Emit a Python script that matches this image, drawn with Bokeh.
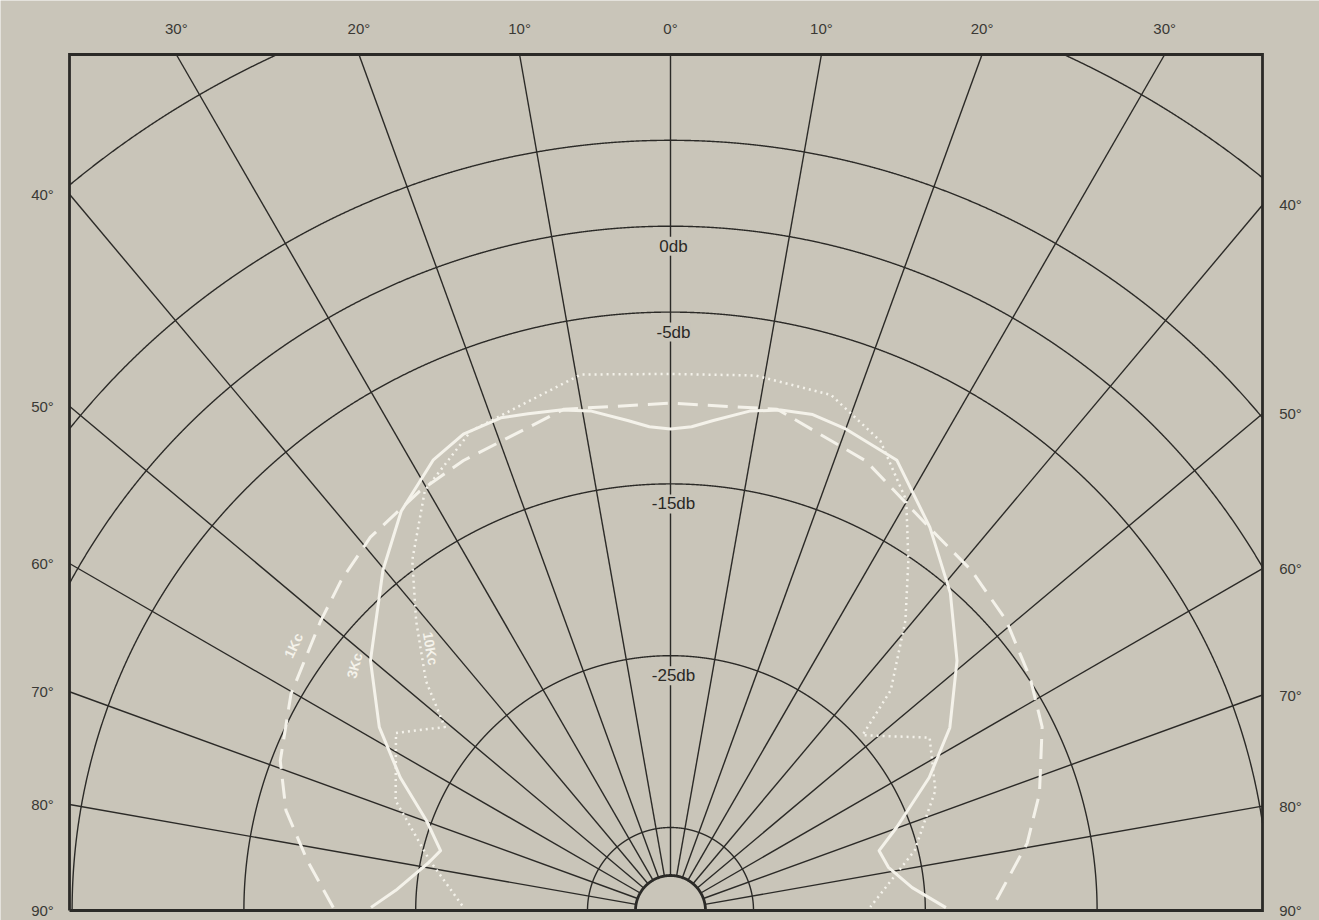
import numpy as np
from bokeh.plotting import figure
from bokeh.models import Range1d, Label
from bokeh.embed import file_html
from bokeh.resources import INLINE
from bokeh.core.properties import value

# ---------------- data ----------------
grid_db = [-35, -25, -15, -5, 0, 5, 15]
spoke_angles = [-80, -70, -60, -50, -40, -30, -20, -10, 0, 10, 20, 30, 40, 50, 60, 70, 80]
top_label_angles = [-30, -20, -10, 0, 10, 20, 30]
top_labels = ["30°", "20°", "10°", "0°", "10°", "20°", "30°"]
side_label_angles = [40, 50, 60, 70, 80, 90]
side_labels = ["40°", "50°", "60°", "70°", "80°", "90°"]
db_label_levels = [0, -5, -15, -25]
db_labels = ["0db", "-5db", "-15db", "-25db"]

# 1 Kc (dashed)
kc1_angle = [-89.5, -82.2, -75.4, -69.0, -60.3, -50.4, -45.0, -38.8, -31.0, -24.7, -12.0,
             0.0, 12.0, 23.5, 31.2, 36.0, 41.5, 49.1, 57.1, 63.7, 72.4, 79.3, 89.5]
kc1_db = [-20.2, -18.5, -16.7, -15.5, -14.4, -13.4, -12.7, -11.95, -11.4, -11.0, -10.0,
          -10.3, -10.0, -11.3, -12.6, -13.1, -13.4, -14.0, -14.9, -15.7, -17.3, -18.7, -21.1]

# 3 Kc (solid)
kc3_angle = [-89.4, -85.8, -78.7, -75.4, -69.8, -63.8, -57.8, -50.2, -40.2, -34.0, -27.8,
             -23.5, -19.0, -16.0, -12.4, -9.0, -5.0, -2.5, 0.0, 2.5, 5.0, 9.0, 12.4, 16.0,
             20.0, 26.7, 34.1, 41.4, 48.9, 56.8, 62.8, 69.8, 74.0, 78.8, 84.6, 89.4]
kc3_db = [-22.4, -23.8, -25.5, -26.0, -24.7, -22.3, -19.8, -17.1, -13.9, -11.8, -10.2,
          -9.6, -9.5, -9.75, -10.0, -10.4, -11.2, -11.65, -11.8, -11.65, -11.2, -10.4, -10.0,
          -9.8, -10.0, -10.5, -12.9, -15.2, -17.7, -20.4, -22.9, -25.8, -27.2, -26.9, -25.7,
          -23.8]

# 10 Kc (dotted)
kc10_angle = [-88.6, -78.2, -68.2, -57.1, -50.9, -46.8, -41.3, -36.4, -30.3, -22.6,
              -9.5, 0.0, 9.0, 17.3, 24.1, 29.9, 34.2, 39.0, 45.0, 47.6, 56.3, 65.6,
              76.2, 89.0]
kc10_db = [-27.7, -25.5, -22.6, -20.8, -22.9, -20.3, -17.4, -14.5, -11.5, -9.6,
           -8.2, -8.6, -8.3, -8.4, -9.9, -12.3, -15.2, -18.1, -21.7, -24.7, -21.7, -22.9,
           -25.2, -28.2]

curve_labels = ["1Kc", "3Kc", "10Kc"]

# ---------------- geometry / style ----------------
BG = "#c9c5b9"
INK = "#2b2a27"
WHITE = "#f4f2ea"
FONT = "Liberation Sans"
R0, K, HUB = 684.3, 17.18, 35.0
XL, XR, YT = -601.0, 592.0, 856.0


def rad(db):
    return R0 + K * np.asarray(db, dtype=float)


def to_xy(theta, r):
    t = np.radians(np.asarray(theta, dtype=float))
    r = np.asarray(r, dtype=float)
    return r * np.sin(t), r * np.cos(t)


p = figure(width=1319, height=920, x_range=Range1d(-670, 649), y_range=Range1d(-10, 910),
           output_backend="svg", toolbar_location=None, min_border=0,
           x_axis_location=None, y_axis_location=None)
p.grid.visible = False
p.outline_line_color = None
p.background_fill_color = BG
p.border_fill_color = BG

# arcs
for db in grid_db:
    th = np.arange(-90, 90.001, 0.05)
    x, y = to_xy(th, np.full_like(th, rad(db)))
    bad = (x < XL) | (x > XR) | (y > YT)
    x[bad] = np.nan
    y[bad] = np.nan
    p.line(x, y, line_color=INK, line_width=1.4)

# spokes
for a in spoke_angles:
    t = np.radians(a)
    s, c = np.sin(t), np.cos(t)
    lim = YT / c
    if s > 0:
        lim = min(lim, XR / s)
    elif s < 0:
        lim = min(lim, XL / s)
    p.line([HUB * s, lim * s], [HUB * c, lim * c], line_color=INK, line_width=1.4)

# hub
th = np.linspace(-90, 90, 181)
hx, hy = to_xy(th, np.full_like(th, HUB))
p.line(hx, hy, line_color=INK, line_width=2.8)

# frame
p.line([XL, XL, XR, XR, XL], [0, YT, YT, 0, 0], line_color=INK, line_width=2.8, line_join="miter")

# curves
x1, y1 = to_xy(kc1_angle, rad(kc1_db))
p.line(x1, y1, line_color=WHITE, line_width=3, line_dash="20 10", line_join="round")
x3, y3 = to_xy(kc3_angle, rad(kc3_db))
p.line(x3, y3, line_color=WHITE, line_width=3, line_join="round")
x10, y10 = to_xy(kc10_angle, rad(kc10_db))
p.line(x10, y10, line_color=WHITE, line_width=2.5, line_dash="2 4", line_join="round")

# top degree labels
tx = [YT * np.tan(np.radians(a)) for a in top_label_angles]
p.text(x=tx, y=[YT + 26] * len(tx), text=top_labels, text_font=value(FONT),
       text_font_size="15px", text_color="#3a3935", text_align="center",
       text_baseline="middle")
# side degree labels
ly = [(-XL) / np.tan(np.radians(a)) if a < 90 else 0 for a in side_label_angles]
ry = [XR / np.tan(np.radians(a)) if a < 90 else 0 for a in side_label_angles]
p.text(x=[XL - 27] * len(ly), y=ly, text=side_labels, text_font=value(FONT),
       text_font_size="15px", text_color="#3a3935", text_align="center",
       text_baseline="middle")
p.text(x=[XR + 28] * len(ry), y=ry, text=side_labels, text_font=value(FONT),
       text_font_size="15px", text_color="#3a3935", text_align="center",
       text_baseline="middle")

# dB labels
for lev, txt in zip(db_label_levels, db_labels):
    p.add_layout(Label(x=3, y=float(rad(lev)) - 20, text=txt, text_font=FONT,
                       text_font_size="17px", text_color="#2a2926", text_align="center",
                       text_baseline="middle", background_fill_color=BG,
                       background_fill_alpha=1.0))

# curve labels
clab_pos = [(-377, 265, 65), (-316, 245, 75), (-240, 262, -80)]
for (cx, cy, ang), txt in zip(clab_pos, curve_labels):
    p.add_layout(Label(x=cx, y=cy, text=txt, text_font=FONT, text_font_size="14px",
                       text_font_style="bold", text_color=WHITE, text_align="center",
                       text_baseline="middle", angle=ang, angle_units="deg"))

open("out.html", "w").write(file_html(p, INLINE))
